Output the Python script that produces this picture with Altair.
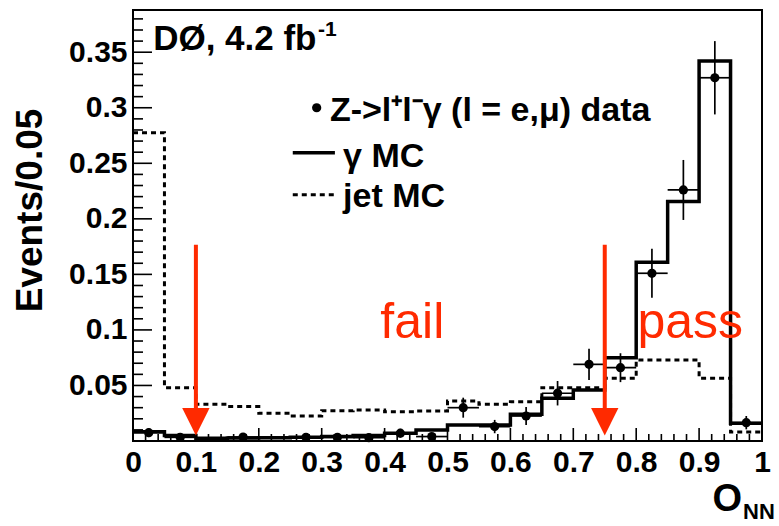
import altair as alt
import pandas as pd

# Bin edges of the neural-network output O_NN (20 bins of 0.05)
bin_low = [0.00, 0.05, 0.10, 0.15, 0.20, 0.25, 0.30, 0.35, 0.40, 0.45,
           0.50, 0.55, 0.60, 0.65, 0.70, 0.75, 0.80, 0.85, 0.90, 0.95]
bin_high = [0.05, 0.10, 0.15, 0.20, 0.25, 0.30, 0.35, 0.40, 0.45, 0.50,
            0.55, 0.60, 0.65, 0.70, 0.75, 0.80, 0.85, 0.90, 0.95, 1.00]

# Normalised templates
gamma_mc = [0.0084, 0.0050, 0.0024, 0.0028, 0.0030, 0.0033, 0.0040, 0.0050, 0.0070, 0.0099,
            0.0144, 0.0144, 0.0240, 0.0384, 0.0460, 0.0750, 0.1610, 0.2156, 0.3420, 0.0160]
jet_mc = [0.2775, 0.0480, 0.0330, 0.0310, 0.0250, 0.0225, 0.0273, 0.0280, 0.0264, 0.0270,
          0.0360, 0.0330, 0.0354, 0.0480, 0.0480, 0.0565, 0.0730, 0.0730, 0.0565, 0.0080]

# Z -> l l gamma data (bins with entries only)
data_x = [0.025, 0.075, 0.175, 0.275, 0.325, 0.375, 0.425, 0.475, 0.525,
          0.575, 0.625, 0.675, 0.725, 0.775, 0.825, 0.875, 0.925, 0.975]
data_y = [0.0075, 0.0033, 0.0036, 0.0033, 0.0033, 0.0030, 0.0070, 0.0040, 0.0300,
          0.0130, 0.0225, 0.0430, 0.0690, 0.0660, 0.1510, 0.2260, 0.3270, 0.0165]
data_err = [0.004, 0.003, 0.003, 0.003, 0.003, 0.003, 0.004, 0.003, 0.009,
            0.006, 0.008, 0.011, 0.014, 0.013, 0.022, 0.027, 0.033, 0.006]

# Cut positions
cut_values = [0.1, 0.75]

# Axis ticks
x_labels = [0, 0.1, 0.2, 0.3, 0.4, 0.5, 0.6, 0.7, 0.8, 0.9, 1.0]
y_major = [0.05, 0.10, 0.15, 0.20, 0.25, 0.30, 0.35]
y_minor = [0.01, 0.02, 0.03, 0.04, 0.06, 0.07, 0.08, 0.09, 0.11, 0.12, 0.13, 0.14,
           0.16, 0.17, 0.18, 0.19, 0.21, 0.22, 0.23, 0.24, 0.26, 0.27, 0.28, 0.29,
           0.31, 0.32, 0.33, 0.34, 0.36, 0.37, 0.38]
x_major = [0.1, 0.2, 0.3, 0.4, 0.5, 0.6, 0.7, 0.8, 0.9]
x_minor = [0.02, 0.04, 0.06, 0.08, 0.12, 0.14, 0.16, 0.18, 0.22, 0.24, 0.26, 0.28,
           0.32, 0.34, 0.36, 0.38, 0.42, 0.44, 0.46, 0.48, 0.52, 0.54, 0.56, 0.58,
           0.62, 0.64, 0.66, 0.68, 0.72, 0.74, 0.76, 0.78, 0.82, 0.84, 0.86, 0.88,
           0.92, 0.94, 0.96, 0.98]

FONT = "Liberation Sans"
RED = "#ff2a00"
W, H = 629, 431

xs = alt.Scale(domain=[0, 1], nice=False, zero=False)
ys = alt.Scale(domain=[0, 0.388], nice=False, zero=False)

X_AXIS = alt.Axis(
    values=x_labels, format=".1~f", ticks=False, domain=False, grid=False,
    labelFont=FONT, labelFontWeight="bold", labelFontSize=30,
    labelColor="black", labelPadding=6, labelFlush=False, title=None)
Y_AXIS = alt.Axis(
    values=y_major, format=".2~f", ticks=False, domain=False, grid=False,
    labelFont=FONT, labelFontWeight="bold", labelFontSize=30,
    labelColor="black", labelPadding=6,
    title="Events/0.05", titleFont=FONT, titleFontWeight="bold",
    titleFontSize=37, titleColor="black", titleAngle=270,
    titleBaseline="alphabetic", titleAlign="center",
    titleX=-92, titleY=200)


def X(field):
    return alt.X(field, type="quantitative", scale=xs, axis=X_AXIS)


def Y(field):
    return alt.Y(field, type="quantitative", scale=ys, axis=Y_AXIS)


def step_frame(values):
    return pd.DataFrame({"x": bin_low + [bin_high[-1]],
                         "v": values + [values[-1]]})


gamma_line = alt.Chart(step_frame(gamma_mc)).mark_line(
    interpolate="step-after", color="black", strokeWidth=3.5
).encode(x=X("x"), y=Y("v"))

jet_line = alt.Chart(step_frame(jet_mc)).mark_line(
    interpolate="step-after", color="black", strokeWidth=3, strokeDash=[5, 4]
).encode(x=X("x"), y=Y("v"))

# Data points with their bin extent as the horizontal error bar
filled = [i for i, lo in enumerate(bin_low)
          if any(abs(lo + 0.025 - d) < 1e-9 for d in data_x)]
pts = pd.DataFrame({
    "x": data_x,
    "v": data_y,
    "lo": [max(v - e, 0.0) for v, e in zip(data_y, data_err)],
    "hi": [v + e for v, e in zip(data_y, data_err)],
    "x0": [bin_low[i] for i in filled],
    "x1": [bin_high[i] for i in filled],
})

err_v = alt.Chart(pts).mark_rule(color="black", strokeWidth=1.7).encode(
    x=X("x"), y=Y("lo"), y2="hi:Q")
err_h = alt.Chart(pts).mark_rule(color="black", strokeWidth=1.7).encode(
    x=X("x0"), x2="x1:Q", y=Y("v"))
dots = alt.Chart(pts).mark_circle(color="black", opacity=1, size=85).encode(
    x=X("x"), y=Y("v"))

# Inward tick marks (ROOT style)
ytick_major = alt.Chart(pd.DataFrame({"v": y_major})).mark_rule(
    color="black", strokeWidth=1.6).encode(y=Y("v"), x=alt.value(0), x2=alt.value(19))
ytick_minor = alt.Chart(pd.DataFrame({"v": y_minor})).mark_rule(
    color="black", strokeWidth=1.6).encode(y=Y("v"), x=alt.value(0), x2=alt.value(10))
xtick_major = alt.Chart(pd.DataFrame({"x": x_major})).mark_rule(
    color="black", strokeWidth=1.6).encode(x=X("x"), y=alt.value(H), y2=alt.value(H - 13))
xtick_minor = alt.Chart(pd.DataFrame({"x": x_minor})).mark_rule(
    color="black", strokeWidth=1.6).encode(x=X("x"), y=alt.value(H), y2=alt.value(H - 7))

# Cut arrows
arrows = pd.DataFrame({"x": cut_values, "top": [0.1766, 0.1766],
                       "base": [0.02, 0.02], "head": [0.0173, 0.0173]})
arrow_shaft = alt.Chart(arrows).mark_rule(color=RED, strokeWidth=4).encode(
    x=X("x"), y=Y("top"), y2="base:Q")
arrow_head = alt.Chart(arrows).mark_point(
    shape="M-1,-1L1,-1L0,1Z", filled=True, color=RED, opacity=1, size=750
).encode(x=X("x"), y=Y("head"))

region_labels = alt.Chart(pd.DataFrame({
    "x": [0.444, 0.886], "v": [0.0928, 0.0928], "t": ["fail", "pass"]
})).mark_text(font=FONT, fontSize=50, color=RED, align="center",
              baseline="alphabetic").encode(x=X("x"), y=Y("v"), text="t:N")

# Legend block
leg_dot = alt.Chart(pd.DataFrame({"x": [0.292], "v": [0.300]})).mark_circle(
    color="black", opacity=1, size=85).encode(x=X("x"), y=Y("v"))
leg_solid = alt.Chart(pd.DataFrame({"x": [0.254], "x2": [0.321], "v": [0.2595]})).mark_rule(
    color="black", strokeWidth=3.5).encode(x=X("x"), x2="x2:Q", y=Y("v"))
leg_dash = alt.Chart(pd.DataFrame({"x": [0.254], "x2": [0.321], "v": [0.2216]})).mark_rule(
    color="black", strokeWidth=3, strokeDash=[5, 4]).encode(x=X("x"), x2="x2:Q", y=Y("v"))
leg_text = alt.Chart(pd.DataFrame({
    "x": [0.313, 0.334, 0.334],
    "v": [0.288, 0.247, 0.211],
    "t": ["Z->l\u207al\u207b\u03b3 (l = e,\u03bc) data", "\u03b3 MC", "jet MC"],
})).mark_text(font=FONT, fontSize=34, fontWeight="bold", color="black",
              align="left", baseline="alphabetic").encode(x=X("x"), y=Y("v"), text="t:N")

# Experiment label
d0_text = alt.Chart(pd.DataFrame({"x": [0.032], "v": [0.352], "t": ["D\u00d8, 4.2 fb"]})).mark_text(
    font=FONT, fontSize=35, fontWeight="bold", color="black",
    align="left", baseline="alphabetic").encode(x=X("x"), y=Y("v"), text="t:N")
d0_sup = alt.Chart(pd.DataFrame({"x": [0.294], "v": [0.365], "t": ["-1"]})).mark_text(
    font=FONT, fontSize=21, fontWeight="bold", color="black",
    align="left", baseline="alphabetic").encode(x=X("x"), y=Y("v"), text="t:N")

# x-axis title O_NN
x_title = alt.Chart(pd.DataFrame({"t": ["O"]})).mark_text(
    font=FONT, fontSize=38, fontWeight="bold", color="black",
    align="right", baseline="alphabetic").encode(
    x=alt.value(609), y=alt.value(501), text="t:N")
x_title_sub = alt.Chart(pd.DataFrame({"t": ["NN"]})).mark_text(
    font=FONT, fontSize=22, fontWeight="bold", color="black",
    align="left", baseline="alphabetic").encode(
    x=alt.value(610), y=alt.value(509), text="t:N")

chart = alt.layer(
    gamma_line, jet_line, err_v, err_h, dots,
    ytick_major, ytick_minor, xtick_major, xtick_minor,
    arrow_shaft, arrow_head, region_labels,
    leg_dot, leg_solid, leg_dash, leg_text, d0_text, d0_sup,
    x_title, x_title_sub,
).properties(
    width=W, height=H,
    padding={"left": 133, "top": 10, "right": 17, "bottom": 85},
    autosize=alt.AutoSizeParams(type="none"),
    background="white",
).configure_view(stroke="black", strokeWidth=2)

chart.save("out.html", embed_options={"renderer": "svg", "actions": False})
